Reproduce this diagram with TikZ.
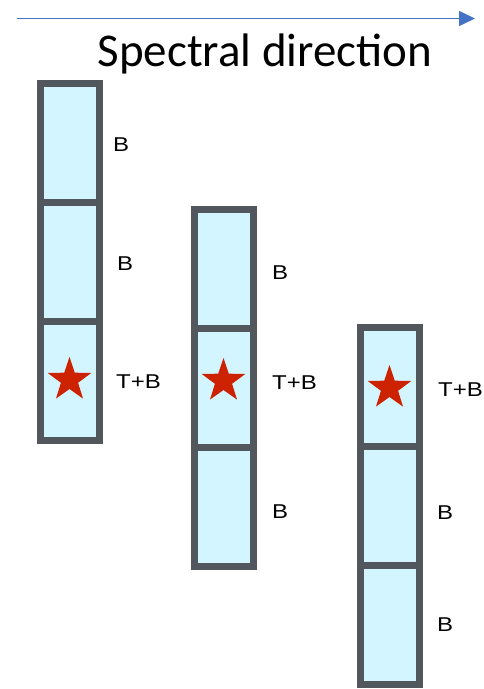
\documentclass[tikz,border=0pt]{standalone}
\usepackage{fontspec}
\setmainfont{Liberation Sans}
\newfontfamily\titlefont{Carlito}
\newfontfamily\lblfont[FakeStretch=1.2]{Liberation Sans}
\usepackage{tikz}
\usetikzlibrary{positioning, arrows.meta, shapes.geometric}

\definecolor{axisblue}{HTML}{4472C4}
\definecolor{cellgray}{HTML}{52575E}
\definecolor{cellfill}{HTML}{D3F5FF}
\definecolor{starred}{HTML}{CC2200}

\begin{document}
\begin{tikzpicture}[
  x=1pt, y=-1pt,
  cell/.style={rectangle, draw=cellgray, fill=cellfill, line width=7pt,
    minimum width=59pt, minimum height=119pt, inner sep=0pt, outer sep=0pt},
  target/.style={star, star points=5, star point ratio=2.55, fill=starred,
    minimum size=46pt, inner sep=0pt},
  lbl/.style={anchor=west, inner sep=0pt,
    font=\lblfont\fontsize{20}{23}\selectfont},
  node distance=0pt,
]
\useasboundingbox (0,0) rectangle (483,689);

% --- Spectral axis ---
\coordinate (axisL) at (17,18.5);
\coordinate (axisR) at (475,18.5);
\draw[-{Triangle[length=16pt, width=15pt]}, axisblue, line width=1.5pt]
  (axisL) -- (axisR);
\node[anchor=base, inner sep=0pt, font=\titlefont\fontsize{47}{50}\selectfont]
  (title) at (265,66) {Spectral direction};

% --- First slit ---
\node[cell] (c1a) at (69.5,142.5) {};
\node[cell, below=of c1a] (c1b) {};
\node[cell, below=of c1b] (c1c) {};
\node[target] (s1) at (69.5,380) {};
\node[lbl] (l1a) at (113,145) {B};
\node[lbl] (l1b) at (117,264) {B};
\node[lbl] (l1c) at (116,382) {T+B};

% --- Second slit ---
\node[cell] (c2a) at (224,268.5) {};
\node[cell, below=of c2a] (c2b) {};
\node[cell, below=of c2b] (c2c) {};
\node[target] (s2) at (223.5,381) {};
\node[lbl] (l2a) at (272,273) {B};
\node[lbl] (l2b) at (272,383) {T+B};
\node[lbl] (l2c) at (272,512) {B};

% --- Third slit ---
\node[cell] (c3a) at (390,386.5) {};
\node[cell, below=of c3a] (c3b) {};
\node[cell, below=of c3b] (c3c) {};
\node[target] (s3) at (389.5,388) {};
\node[lbl] (l3a) at (438,390) {T+B};
\node[lbl] (l3b) at (437,513) {B};
\node[lbl] (l3c) at (437,625) {B};

\end{tikzpicture}
\end{document}
